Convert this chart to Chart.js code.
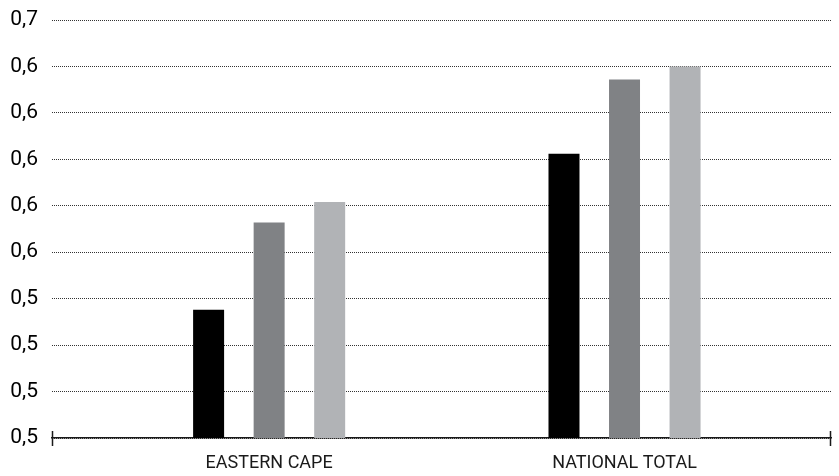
<!DOCTYPE html>
<html>
<head>
<meta charset="utf-8">
<script src="https://cdn.jsdelivr.net/npm/chart.js@4/dist/chart.umd.min.js"></script>
<style>
  html, body { margin: 0; padding: 0; background: #fff; }
  #wrap { width: 839px; height: 476px; }
</style>
</head>
<body>
<div id="wrap"><canvas id="BarCanvas" width="839" height="476"></canvas></div>
<script>
var categories = ['EASTERN CAPE', 'NATIONAL TOTAL'];
var seriesA = [0.544, 0.628];
var seriesB = [0.591, 0.668];
var seriesC = [0.602, 0.675];
var tickLabels = ['0,5', '0,5', '0,5', '0,5', '0,6', '0,6', '0,6', '0,6', '0,6', '0,7'];
var yMin = 0.475;
var yStep = 0.025;

function points(values) {
    return values.map(function (v, i) { return { x: i, y: v }; });
}

// little vertical marks where the category axis starts and ends
var axisEnds = {
    id: 'axisEnds',
    afterDraw: function (chart) {
        var ctx = chart.ctx;
        var x = chart.scales.x;
        var y = chart.chartArea.bottom;
        ctx.save();
        ctx.strokeStyle = '#1a1a1a';
        ctx.lineWidth = 1.5;
        ctx.beginPath();
        ctx.moveTo(x.left + 0.5, y - 7);
        ctx.lineTo(x.left + 0.5, y + 8);
        ctx.moveTo(x.right - 0.5, y - 7);
        ctx.lineTo(x.right - 0.5, y + 8);
        ctx.stroke();
        ctx.restore();
    }
};

window.onload = function () {
    var barCtx = document.getElementById('BarCanvas').getContext('2d');

    window.BarChart = new Chart(barCtx, {
        type: 'bar',
        data: {
            datasets: [
                { data: points(seriesA), backgroundColor: '#000000' },
                { data: points(seriesB), backgroundColor: '#808285' },
                { data: points(seriesC), backgroundColor: '#b1b3b6' }
            ]
        },
        options: {
            responsive: false,
            animation: false,
            layout: { padding: { top: 20, right: 8, left: 0, bottom: 0 } },
            datasets: {
                bar: { categoryPercentage: 0.511, barPercentage: 0.512 }
            },
            plugins: {
                legend: { display: false },
                tooltip: { enabled: false }
            },
            scales: {
                x: {
                    type: 'linear',
                    offset: false,
                    min: -0.611,
                    max: 1.581,
                    afterBuildTicks: function (scale) {
                        scale.ticks = categories.map(function (_, i) { return { value: i }; });
                    },
                    afterFit: function (scale) {
                        scale.height = 38;
                        scale.paddingLeft = 0;
                        scale.paddingRight = 0;
                    },
                    grid: { display: false, drawTicks: false },
                    border: { display: true, color: '#1a1a1a', width: 1.5 },
                    ticks: {
                        padding: 15,
                        color: '#1a1a1a',
                        font: { family: 'Roboto', size: 18 },
                        maxRotation: 0,
                        callback: function (value) { return categories[value]; }
                    }
                },
                y: {
                    min: yMin,
                    max: yMin + yStep * (tickLabels.length - 1),
                    afterBuildTicks: function (scale) {
                        scale.ticks = tickLabels.map(function (_, i) { return { value: yMin + i * yStep }; });
                    },
                    afterFit: function (scale) {
                        scale.width = 52;
                        scale.paddingTop = 0;
                        scale.paddingBottom = 0;
                    },
                    // dotted grid lines come from the border dash in v4
                    border: { display: false, dash: [1, 1] },
                    grid: { color: '#333', lineWidth: 1, drawTicks: false },
                    ticks: {
                        padding: 14,
                        color: '#000',
                        font: { family: 'Roboto', size: 21 },
                        callback: function (value, index) { return tickLabels[index]; }
                    }
                }
            }
        },
        plugins: [axisEnds]
    });
};
</script>
</body>
</html>
